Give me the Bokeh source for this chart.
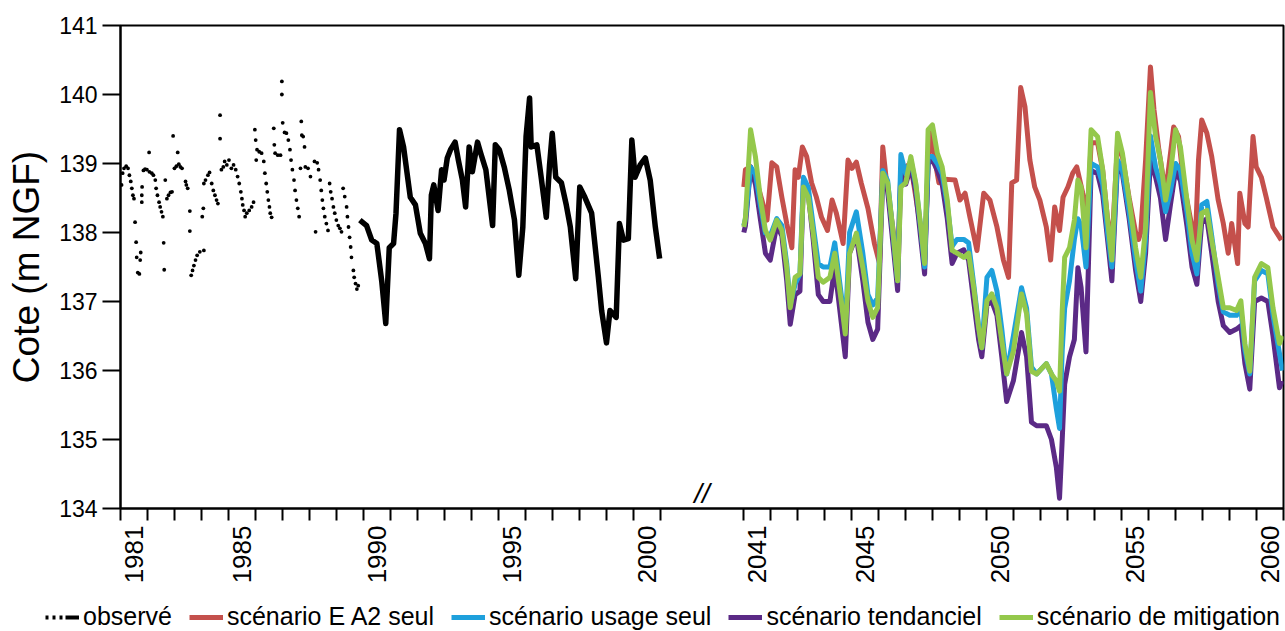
import math
from bokeh.plotting import figure
from bokeh.models import (Range1d, FixedTicker, CustomJSTickFormatter, Legend, LegendItem, Label)
from bokeh.embed import file_html
from bokeh.resources import INLINE

# ---------------- data ----------------
# observed levels, sparse manual readings (dots) 1981-1989
obs_dot_years = [
    1981.04, 1981.08, 1981.13, 1981.21, 1981.28, 1981.33, 1981.38, 1981.42, 1981.46, 1981.50,
    1981.54, 1981.58, 1981.60, 1981.64, 1981.70, 1981.73, 1981.75, 1981.79, 1981.79, 1981.80,
    1981.85, 1981.91, 1981.98, 1982.06, 1982.07, 1982.16, 1982.22, 1982.29, 1982.32, 1982.37,
    1982.43, 1982.47, 1982.52, 1982.57, 1982.60, 1982.62, 1982.66, 1982.72, 1982.78, 1982.85,
    1982.91, 1982.95, 1983.00, 1983.07, 1983.12, 1983.16, 1983.22, 1983.28, 1983.41, 1983.44,
    1983.49, 1983.57, 1983.57, 1983.62, 1983.67, 1983.72, 1983.78, 1983.84, 1983.94, 1984.09,
    1984.03, 1984.07, 1984.09, 1984.15, 1984.24, 1984.30, 1984.38, 1984.44, 1984.50, 1984.56,
    1984.61, 1984.69, 1984.69, 1984.74, 1984.81, 1984.86, 1984.94, 1985.02, 1985.11, 1985.19,
    1985.27, 1985.34, 1985.40, 1985.46, 1985.50, 1985.53, 1985.58, 1985.62, 1985.68, 1985.77,
    1985.86, 1985.93, 1985.98, 1986.01, 1986.03, 1986.06, 1986.14, 1986.23, 1986.31, 1986.35,
    1986.40, 1986.44, 1986.48, 1986.52, 1986.55, 1986.60, 1986.68, 1986.70, 1986.73, 1986.83,
    1986.93, 1986.98, 1986.98, 1987.01, 1987.08, 1987.15, 1987.22, 1987.28, 1987.32, 1987.37,
    1987.43, 1987.47, 1987.52, 1987.57, 1987.62, 1987.67, 1987.70, 1987.72, 1987.77, 1987.82,
    1987.85, 1987.95, 1988.04, 1988.19, 1988.23, 1988.29, 1988.34, 1988.40, 1988.44, 1988.48,
    1988.52, 1988.57, 1988.63, 1988.69, 1988.75, 1988.79, 1988.84, 1988.89, 1988.94, 1989.00,
    1989.07, 1989.13, 1989.19, 1989.25, 1989.31, 1989.38, 1989.41, 1989.45, 1989.49, 1989.53,
    1989.56, 1989.63, 1989.66, 1989.71, 1989.76, 1989.81]
obs_dot_levels = [
    138.69, 138.86, 138.93, 138.96, 138.93, 138.83, 138.74, 138.64, 138.54, 138.49,
    138.15, 137.86, 137.64, 137.42, 137.40, 137.60, 137.71, 138.44, 138.54, 138.66,
    138.90, 138.92, 138.91, 139.16, 138.88, 138.86, 138.83, 138.76, 138.64, 138.54,
    138.44, 138.37, 138.30, 138.23, 137.85, 137.46, 138.76, 138.49, 138.54, 138.58,
    138.59, 139.40, 138.93, 138.96, 139.16, 138.99, 138.95, 138.93, 138.74, 138.69,
    138.64, 138.31, 138.02, 137.38, 137.45, 137.52, 137.60, 137.67, 137.72, 137.74,
    138.23, 138.35, 138.71, 138.76, 138.83, 138.87, 138.71, 138.61, 138.54, 138.47,
    138.42, 139.70, 139.36, 138.91, 138.95, 139.03, 138.98, 139.05, 138.93, 138.98,
    138.91, 138.81, 138.71, 138.59, 138.49, 138.40, 138.32, 138.23, 138.28, 138.32,
    138.37, 138.44, 139.49, 139.34, 139.05, 139.20, 139.17, 139.15, 139.03, 138.86,
    138.71, 138.59, 138.47, 138.37, 138.28, 138.22, 139.51, 139.27, 139.15, 139.12,
    139.12, 140.19, 140.00, 139.59, 139.45, 139.44, 139.34, 139.20, 139.05, 138.91,
    138.76, 138.61, 138.47, 138.35, 138.23, 138.93, 139.61, 139.41, 139.39, 139.24,
    138.95, 138.93, 138.81, 139.03, 138.01, 139.01, 138.91, 138.76, 138.61, 138.47,
    138.35, 138.23, 138.13, 138.03, 138.71, 138.59, 138.49, 138.37, 138.28, 138.18,
    138.10, 138.06, 138.01, 138.64, 138.52, 138.37, 138.23, 138.08, 137.93, 137.79,
    137.64, 137.45, 137.35, 137.26, 137.18, 137.23]

# observed continuous record 1989-2000
obs_line_years = [
    1989.87, 1990.12, 1990.31, 1990.50, 1990.68, 1990.83, 1990.96, 1991.12, 1991.21, 1991.34,
    1991.49, 1991.74, 1991.93, 1992.11, 1992.30, 1992.45, 1992.52, 1992.61, 1992.77, 1992.90,
    1992.99, 1993.11, 1993.23, 1993.40, 1993.52, 1993.67, 1993.79, 1993.92, 1994.04, 1994.23,
    1994.35, 1994.54, 1994.79, 1994.89, 1995.04, 1995.22, 1995.41, 1995.60, 1995.76, 1995.91,
    1996.03, 1996.16, 1996.22, 1996.43, 1996.59, 1996.78, 1996.90, 1997.00, 1997.13, 1997.34,
    1997.52, 1997.67, 1997.87, 1998.02, 1998.21, 1998.46, 1998.71, 1998.83, 1999.01, 1999.14,
    1999.37, 1999.49, 1999.64, 1999.82, 1999.95, 2000.07, 2000.26, 2000.45, 2000.63, 2000.82,
    2000.98]
obs_line_levels = [
    138.18, 138.10, 137.89, 137.84, 137.30, 136.68, 137.78, 137.84, 138.28, 139.49,
    139.24, 138.51, 138.40, 137.99, 137.84, 137.62, 138.54, 138.69, 138.32, 138.91,
    138.76, 139.08, 139.20, 139.31, 139.05, 138.76, 138.37, 139.24, 138.88, 139.31,
    139.15, 138.91, 138.10, 139.27, 139.20, 138.95, 138.61, 138.18, 137.38, 138.08,
    139.39, 139.95, 139.24, 139.27, 138.80, 138.22, 138.98, 139.44, 138.80, 138.72,
    138.40, 138.08, 137.33, 138.66, 138.51, 138.28, 137.35, 136.87, 136.40, 136.87,
    136.77, 138.13, 137.89, 137.91, 139.34, 138.80, 138.98, 139.08, 138.76, 138.08,
    137.62]

# scenario "E A2 seul"
ea2_years = [
    2041.00, 2041.06, 2041.25, 2041.43, 2041.67, 2041.86, 2042.04, 2042.22, 2042.41, 2042.59,
    2042.78, 2042.90, 2043.02, 2043.17, 2043.33, 2043.51, 2043.69, 2043.88, 2044.10, 2044.27,
    2044.43, 2044.68, 2044.86, 2045.01, 2045.17, 2045.35, 2045.60, 2045.84, 2046.03, 2046.15,
    2046.27, 2046.51, 2046.70, 2046.82, 2047.18, 2047.54, 2047.70, 2047.88, 2048.23, 2048.54,
    2048.83, 2049.01, 2049.20, 2049.38, 2049.64, 2049.89, 2050.12, 2050.38, 2050.62, 2050.81,
    2050.93, 2051.11, 2051.26, 2051.42, 2051.60, 2051.78, 2051.97, 2052.21, 2052.37, 2052.52,
    2052.70, 2052.83, 2053.01, 2053.19, 2053.34, 2053.56, 2053.75, 2053.87, 2054.11, 2054.30,
    2054.48, 2054.64, 2054.85, 2055.03, 2055.28, 2055.52, 2055.63, 2055.71, 2055.89, 2056.07,
    2056.20, 2056.38, 2056.63, 2056.75, 2056.93, 2057.11, 2057.30, 2057.54, 2057.73, 2057.85,
    2057.97, 2058.16, 2058.34, 2058.58, 2058.77, 2058.95, 2059.08, 2059.30, 2059.38, 2059.57,
    2059.69, 2059.87, 2059.99, 2060.18, 2060.36, 2060.61, 2060.92]
ea2_levels = [
    138.66, 138.91, 138.95, 138.80, 138.47, 138.18, 139.01, 138.95, 138.51, 138.13,
    137.78, 138.91, 138.80, 139.24, 139.10, 138.72, 138.51, 138.22, 138.03, 138.47,
    138.28, 137.84, 139.05, 138.93, 139.02, 138.72, 138.35, 137.84, 137.55, 139.24,
    138.80, 138.10, 137.55, 138.90, 139.00, 138.10, 137.60, 139.50, 138.72, 138.77,
    138.76, 138.47, 138.57, 138.22, 137.74, 138.57, 138.47, 138.08, 137.60, 137.35,
    138.72, 138.76, 140.10, 139.82, 139.05, 138.66, 138.47, 138.08, 137.60, 138.37,
    138.03, 138.51, 138.66, 138.86, 138.95, 138.57, 138.32, 139.30, 139.30, 138.90,
    138.20, 137.80, 139.30, 139.10, 138.50, 138.00, 137.90, 138.00, 139.05, 140.40,
    139.78, 139.20, 138.57, 138.95, 139.53, 139.39, 138.72, 138.22, 137.84, 139.05,
    139.63, 139.44, 139.10, 138.47, 138.13, 137.70, 138.13, 137.55, 138.57, 138.13,
    138.08, 139.39, 138.95, 138.80, 138.51, 138.08, 137.89]

# common dates of the three other scenarios
sim_years = [
    2041.00, 2041.06, 2041.25, 2041.43, 2041.61, 2041.80, 2041.98, 2042.22, 2042.41, 2042.59,
    2042.72, 2042.90, 2043.08, 2043.21, 2043.39, 2043.57, 2043.76, 2043.94, 2044.19, 2044.37,
    2044.61, 2044.76, 2044.92, 2045.17, 2045.41, 2045.60, 2045.78, 2045.96, 2046.15, 2046.33,
    2046.51, 2046.70, 2046.82, 2047.00, 2047.19, 2047.37, 2047.56, 2047.70, 2047.83, 2047.99,
    2048.17, 2048.35, 2048.54, 2048.72, 2048.90, 2049.15, 2049.33, 2049.52, 2049.70, 2049.82,
    2050.01, 2050.19, 2050.38, 2050.56, 2050.74, 2050.99, 2051.29, 2051.48, 2051.66, 2051.85,
    2052.21, 2052.40, 2052.58, 2052.70, 2052.80, 2052.89, 2053.07, 2053.25, 2053.38, 2053.50,
    2053.68, 2053.87, 2054.11, 2054.30, 2054.48, 2054.64, 2054.85, 2055.03, 2055.28, 2055.52,
    2055.71, 2055.89, 2056.07, 2056.26, 2056.44, 2056.63, 2056.81, 2057.00, 2057.18, 2057.42,
    2057.61, 2057.79, 2057.97, 2058.16, 2058.34, 2058.58, 2058.77, 2059.01, 2059.26, 2059.42,
    2059.57, 2059.75, 2059.93, 2060.18, 2060.42, 2060.61, 2060.85, 2060.96]

usage_levels = [
    138.10, 138.20, 138.95, 138.85, 138.40, 137.99, 137.95, 138.20, 138.10, 137.55,
    136.95, 137.25, 137.40, 138.80, 138.65, 138.10, 137.55, 137.50, 137.50, 137.85,
    137.10, 136.60, 138.00, 138.30, 137.70, 137.10, 136.95, 137.05, 138.90, 138.75,
    138.05, 137.30, 139.13, 138.85, 139.05, 138.70, 138.05, 137.50, 139.10, 139.10,
    139.00, 138.85, 138.40, 137.80, 137.90, 137.90, 137.85, 137.25, 136.65, 136.33,
    137.35, 137.45, 137.15, 136.60, 135.95, 136.50, 137.20, 136.90, 136.05, 135.95,
    136.10, 135.95, 135.45, 135.16, 136.30, 136.90, 137.30, 137.90, 138.20, 138.10,
    137.50, 139.00, 138.95, 138.70, 138.00, 137.50, 139.05, 138.90, 138.30, 137.60,
    137.15, 137.90, 139.40, 138.95, 138.70, 138.30, 138.60, 139.00, 138.90, 138.30,
    137.70, 137.40, 138.40, 138.45, 137.95, 137.25, 136.85, 136.80, 136.80, 136.90,
    136.30, 135.95, 137.30, 137.45, 137.40, 136.80, 136.25, 136.00]

tendanciel_levels = [
    138.00, 138.10, 138.95, 138.70, 138.20, 137.70, 137.60, 138.10, 137.95, 137.30,
    136.67, 137.10, 137.15, 138.75, 138.55, 137.90, 137.10, 137.00, 137.00, 137.50,
    136.70, 136.20, 137.70, 137.95, 137.30, 136.70, 136.45, 136.60, 138.80, 138.60,
    137.90, 137.16, 138.90, 138.70, 138.95, 138.60, 137.90, 137.40, 139.00, 139.05,
    138.90, 138.70, 138.20, 137.55, 137.70, 137.75, 137.60, 137.00, 136.45, 136.20,
    136.95, 137.00, 136.80, 136.20, 135.55, 135.85, 136.55, 136.20, 135.25, 135.20,
    135.20, 135.00, 134.60, 134.15, 135.00, 135.80, 136.20, 136.45, 137.49, 137.20,
    136.27, 138.90, 138.85, 138.55, 137.90, 137.30, 139.00, 138.85, 138.20, 137.45,
    137.00, 137.70, 139.05, 138.80, 138.50, 137.90, 138.40, 138.90, 138.75, 138.10,
    137.50, 137.25, 138.15, 138.20, 137.70, 137.00, 136.65, 136.55, 136.60, 136.65,
    136.10, 135.73, 137.00, 137.05, 137.00, 136.50, 135.75, 135.85]

mitigation_levels = [
    138.08, 138.22, 139.49, 139.10, 138.51, 138.03, 137.89, 138.18, 138.03, 137.49,
    136.91, 137.35, 137.40, 138.66, 138.51, 137.99, 137.35, 137.28, 137.35, 137.70,
    137.01, 136.53, 137.70, 137.99, 137.49, 137.01, 136.77, 136.91, 138.86, 138.72,
    138.08, 137.30, 138.66, 138.72, 139.10, 138.72, 138.08, 137.55, 139.49, 139.56,
    139.15, 138.95, 138.47, 137.74, 137.70, 137.64, 137.70, 137.20, 136.62, 136.33,
    137.01, 137.11, 136.91, 136.43, 135.95, 136.28, 137.11, 136.82, 135.99, 135.95,
    136.10, 135.95, 135.85, 135.70, 136.87, 137.64, 137.78, 138.18, 138.76, 138.66,
    137.78, 139.49, 139.39, 138.91, 138.18, 137.60, 139.44, 139.15, 138.47, 137.78,
    137.35, 138.08, 140.03, 139.39, 139.05, 138.47, 138.86, 139.49, 139.24, 138.47,
    137.89, 137.60, 138.28, 138.32, 137.89, 137.35, 136.91, 136.91, 136.87, 137.01,
    136.39, 135.99, 137.35, 137.55, 137.49, 136.91, 136.39, 136.50]

left_years = list(range(1981, 2002))     # year boundaries, left panel
right_years = list(range(2041, 2062))    # year boundaries, right panel
labelled_years = [1981, 1985, 1990, 1995, 2000, 2041, 2045, 2050, 2055, 2060]
y_ticks = [134, 135, 136, 137, 138, 139, 140, 141]

series_names = ["observé", "scénario E A2 seul", "scénario usage seul",
                "scénario tendanciel", "scénario de mitigation"]
colors = {"obs": "black", "ea2": "#c4504c", "usage": "#1ea0dc", "tend": "#5b2a86",
          "mitig": "#94c84b"}

# ---------------- broken axis mapping ----------------
GAP = 3.1  # width of the axis break, in years


def pos(y):
    return y - 1981 if y < 2020 else y - 2041 + 20 + GAP


def posl(ys):
    return [pos(v) for v in ys]


FONT = "Liberation Sans"
TOP_H = 2
LEGEND_H = 40

# thin black rule along the very top of the image
top = figure(width=1285, height=TOP_H, x_range=Range1d(0, 1), y_range=Range1d(0, 1),
             output_backend="svg", toolbar_location=None, x_axis_type=None, y_axis_type=None,
             min_border_left=0, min_border_right=0, min_border_top=0, min_border_bottom=0,
             background_fill_color="black", border_fill_color="black")
top.outline_line_color = None
top.xgrid.visible = False
top.ygrid.visible = False

p = figure(width=1285, height=631 - LEGEND_H - TOP_H,
           x_range=Range1d(0, 40 + GAP), y_range=Range1d(134, 141),
           output_backend="svg", toolbar_location=None,
           min_border_left=120, min_border_right=2, min_border_top=25 - TOP_H,
           min_border_bottom=83,
           background_fill_color="white", border_fill_color="white")
p.xgrid.visible = False
p.ygrid.visible = False
p.outline_line_color = "black"
p.outline_line_width = 2
p.outline_line_alpha = 1

# x axis: tick marks at year boundaries (minor), labels at mid-year (major)
xa = p.xaxis[0]
xa.ticker = FixedTicker(ticks=posl([y + 0.5 for y in labelled_years]),
                        minor_ticks=posl(left_years) + posl(right_years))
xa.formatter = CustomJSTickFormatter(args=dict(gap=GAP), code="""
    const y = tick < 20.5 ? Math.floor(tick) + 1981 : Math.floor(tick - 20 - gap) + 2041;
    return String(y);
""")
xa.major_tick_out = 0
xa.major_tick_in = 0
xa.minor_tick_out = 12
xa.minor_tick_in = 0
xa.minor_tick_line_color = "black"
xa.minor_tick_line_width = 2
xa.axis_line_width = 2
xa.axis_line_color = "black"
xa.major_label_orientation = math.pi / 2
xa.major_label_standoff = 5
xa.major_label_text_font = FONT
xa.major_label_text_font_size = "26px"
xa.major_label_text_color = "black"

ya = p.yaxis[0]
ya.ticker = FixedTicker(ticks=y_ticks, minor_ticks=[])
ya.major_tick_out = 18
ya.major_tick_in = 0
ya.major_tick_line_width = 2
ya.major_tick_line_color = "black"
ya.axis_line_width = 2
ya.axis_line_color = "black"
ya.major_label_standoff = 5
ya.major_label_text_font = FONT
ya.major_label_text_font_size = "23px"
ya.major_label_text_color = "black"
ya.axis_label = "Cote (m NGF)"
ya.axis_label_text_font = FONT
ya.axis_label_text_font_size = "37px"
ya.axis_label_text_font_style = "normal"
ya.axis_label_text_color = "black"
ya.axis_label_standoff = 9

# ---------------- data marks ----------------
p.scatter(posl(obs_dot_years), obs_dot_levels, size=3.8, marker="circle",
          color=colors["obs"], line_width=0)
p.line(posl(obs_line_years), obs_line_levels, line_color=colors["obs"], line_width=5.5,
       line_join="round")

sim_x = posl(sim_years)
p.line(posl(ea2_years), ea2_levels, line_color=colors["ea2"], line_width=5, line_join="round")
p.line(sim_x, tendanciel_levels, line_color=colors["tend"], line_width=5, line_join="round")
p.line(sim_x, usage_levels, line_color=colors["usage"], line_width=5, line_join="round")
p.line(sim_x, mitigation_levels, line_color=colors["mitig"], line_width=5, line_join="round")

# axis break marker, sitting on the x axis
brk = Label(x=20 + GAP / 2, y=134, y_offset=0, text="//", text_font=FONT,
            text_font_size="28px", text_font_style="italic", text_align="center",
            text_baseline="bottom", text_color="black")
p.add_layout(brk)

# ---------------- legend strip (separate root, full width) ----------------
lg = figure(width=1285, height=LEGEND_H, x_range=Range1d(0, 1), y_range=Range1d(0, 1),
            output_backend="svg", toolbar_location=None, x_axis_type=None, y_axis_type=None,
            min_border_left=0, min_border_right=0, min_border_top=0, min_border_bottom=0,
            background_fill_color="white", border_fill_color="white")
lg.outline_line_color = None
lg.xgrid.visible = False
lg.ygrid.visible = False
# legend samples: same data as the chart, but outside this strip's (0..1) view
s_obs = lg.line(posl(obs_line_years), obs_line_levels, line_color=colors["obs"], line_width=4,
                line_dash="3 4 3 4 3 3 60 3")
s_ea2 = lg.line(posl(ea2_years), ea2_levels, line_color=colors["ea2"], line_width=5)
s_usage = lg.line(sim_x, usage_levels, line_color=colors["usage"], line_width=5)
s_tend = lg.line(sim_x, tendanciel_levels, line_color=colors["tend"], line_width=5)
s_mitig = lg.line(sim_x, mitigation_levels, line_color=colors["mitig"], line_width=5)

legend = Legend(items=[
    LegendItem(label=series_names[0], renderers=[s_obs]),
    LegendItem(label=series_names[1], renderers=[s_ea2]),
    LegendItem(label=series_names[2], renderers=[s_usage]),
    LegendItem(label=series_names[3], renderers=[s_tend]),
    LegendItem(label=series_names[4], renderers=[s_mitig]),
], orientation="horizontal", location=(45, 0),
    label_text_font=FONT, label_text_font_size="25px", label_text_color="black",
    glyph_width=34, glyph_height=20, label_standoff=4, spacing=17,
    padding=0, margin=0, border_line_color=None, background_fill_alpha=0)
lg.add_layout(legend)

open("out.html", "w").write(file_html((top, p, lg), INLINE))
